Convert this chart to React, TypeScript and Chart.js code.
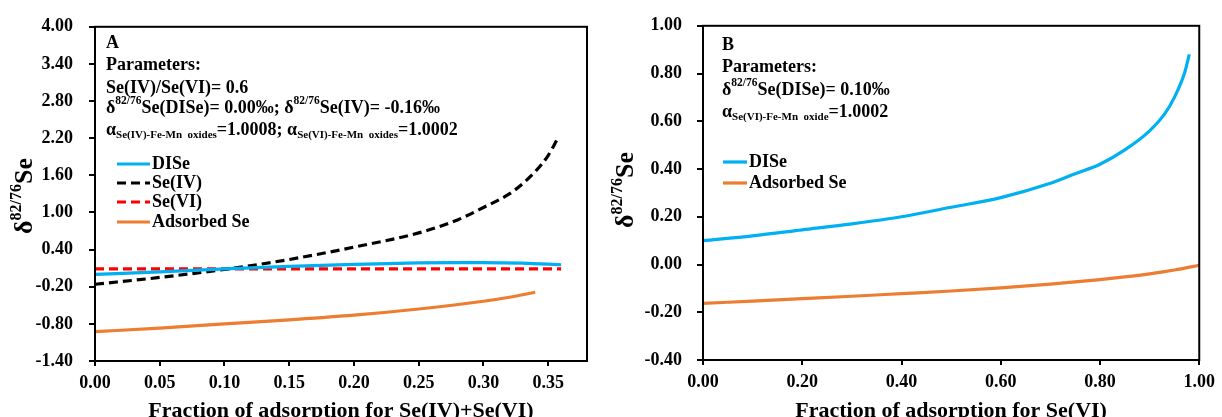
import React, { useEffect, useRef } from "react";
import { Chart, registerables } from "chart.js";

Chart.register(...registerables);

// ---------- Panel A data ----------
const xA_DISe = [0, 0.05, 0.1, 0.15, 0.2, 0.25, 0.28, 0.3, 0.33, 0.36];
const yA_DISe = [0.0, 0.04, 0.09, 0.13, 0.16, 0.185, 0.19, 0.19, 0.18, 0.155];
const xA_SeIV = [0, 0.05, 0.1, 0.15, 0.2, 0.25, 0.28, 0.3, 0.32, 0.33, 0.34, 0.35, 0.357];
const yA_SeIV = [-0.16, -0.05, 0.08, 0.24, 0.44, 0.67, 0.88, 1.08, 1.3, 1.46, 1.66, 1.92, 2.18];
const xA_SeVI = [0, 0.36];
const yA_SeVI = [0.09, 0.09];
const xA_Ads = [0, 0.05, 0.1, 0.15, 0.2, 0.25, 0.3, 0.32, 0.34];
const yA_Ads = [-0.925, -0.87, -0.8, -0.735, -0.66, -0.56, -0.435, -0.37, -0.29];

// ---------- Panel B data ----------
const xB_DISe = [0, 0.1, 0.2, 0.3, 0.4, 0.5, 0.6, 0.7, 0.75, 0.8, 0.85, 0.9, 0.93, 0.95, 0.97, 0.98];
const yB_DISe = [0.1, 0.12, 0.145, 0.17, 0.2, 0.24, 0.28, 0.34, 0.38, 0.42, 0.48, 0.56, 0.63, 0.7, 0.8, 0.88];
const xB_Ads = [0, 0.1, 0.2, 0.3, 0.4, 0.5, 0.6, 0.7, 0.8, 0.85, 0.9, 0.95, 1.0];
const yB_Ads = [-0.163, -0.153, -0.143, -0.133, -0.122, -0.111, -0.098, -0.082, -0.063, -0.052, -0.039, -0.023, -0.003];

// ---------- Axis ticks ----------
const xTicksA = [0, 0.05, 0.1, 0.15, 0.2, 0.25, 0.3, 0.35];
const yTicksA = [-1.4, -0.8, -0.2, 0.4, 1.0, 1.6, 2.2, 2.8, 3.4, 4.0];
const xTicksB = [0, 0.2, 0.4, 0.6, 0.8, 1.0];
const yTicksB = [-0.4, -0.2, 0, 0.2, 0.4, 0.6, 0.8, 1.0];

// ---------- Text ----------
const xTitleA = "Fraction of adsorption for Se(IV)+Se(VI)";
const xTitleB = "Fraction of adsorption for Se(VI)";
const labelsA = ["DISe", "Se(IV)", "Se(VI)", "Adsorbed Se"];
const labelsB = ["DISe", "Adsorbed Se"];

const FAMILY = '"Liberation Serif", "Times New Roman", serif';
const BLUE = "#00B0F0";
const ORANGE = "#ED7D31";
const RED = "#FF0000";
const BLACK = "#000000";
const BASE = 18;

type Seg = { t: string; size?: number; dy?: number };

function drawRich(ctx: CanvasRenderingContext2D, x: number, y: number, segs: Seg[], base = BASE) {
  let cx = x;
  for (const s of segs) {
    const size = s.size ?? base;
    ctx.font = `bold ${size}px ${FAMILY}`;
    ctx.fillText(s.t, cx, y + (s.dy ?? 0));
    cx += ctx.measureText(s.t).width;
  }
}

function richWidth(ctx: CanvasRenderingContext2D, segs: Seg[], base: number) {
  let w = 0;
  for (const s of segs) {
    ctx.font = `bold ${s.size ?? base}px ${FAMILY}`;
    w += ctx.measureText(s.t).width;
  }
  return w;
}

const SUP = -7;
const SUB = 5;
const SMALL = 11.5;
const SUBSZ = 11;

function makePlugin(opts: {
  textX: number;
  lines: { y: number; segs: Seg[] }[];
  legend: { x1: number; x2: number; tx: number; ys: number[] };
  titleX: number;
  titleY: number;
}) {
  return {
    id: "customText",
    afterDraw(chart: any) {
      const ctx: CanvasRenderingContext2D = chart.ctx;
      const ca = chart.chartArea;
      ctx.save();
      ctx.strokeStyle = BLACK;
      ctx.lineWidth = 2;
      ctx.strokeRect(ca.left, ca.top, ca.right - ca.left, ca.bottom - ca.top);
      ctx.fillStyle = BLACK;
      ctx.textBaseline = "middle";
      ctx.textAlign = "left";
      for (const l of opts.lines) drawRich(ctx, opts.textX, l.y, l.segs);
      chart.data.datasets.forEach((ds: any, i: number) => {
        const y = opts.legend.ys[i];
        ctx.save();
        ctx.strokeStyle = ds.borderColor;
        ctx.lineWidth = ds.borderWidth;
        ctx.setLineDash(ds.borderDash || []);
        ctx.beginPath();
        ctx.moveTo(opts.legend.x1, y);
        ctx.lineTo(opts.legend.x2, y);
        ctx.stroke();
        ctx.restore();
        ctx.fillStyle = BLACK;
        ctx.font = `bold ${BASE}px ${FAMILY}`;
        ctx.fillText(ds.label, opts.legend.tx, y);
      });
      const segs: Seg[] = [
        { t: "δ", size: 26 },
        { t: "82/76", size: 16, dy: -11 },
        { t: "Se", size: 26 },
      ];
      ctx.translate(opts.titleX, opts.titleY);
      ctx.rotate(-Math.PI / 2);
      ctx.textBaseline = "alphabetic";
      const w = richWidth(ctx, segs, 26);
      drawRich(ctx, -w / 2, 0, segs, 26);
      ctx.restore();
    },
  };
}

function lineDs(label: string, xs: number[], ys: number[], color: string, dash?: number[]) {
  return {
    label,
    data: xs.map((x, i) => ({ x, y: ys[i] })),
    borderColor: color,
    backgroundColor: color,
    borderWidth: 3.2,
    borderDash: dash,
    pointRadius: 0,
    fill: false,
    tension: 0.4,
    cubicInterpolationMode: "monotone",
  };
}

const tickFont = { family: FAMILY, size: 18, weight: "bold" as const };
const fmt = (v: any) => {
  const n = Number(v);
  return (Math.abs(n) < 1e-9 ? 0 : n).toFixed(2);
};

function axes(
  xr: [number, number],
  xTicks: number[],
  yr: [number, number],
  yTicks: number[],
  yWidth: number,
  xHeight: number,
  xTitle: string,
  yPad: number
) {
  return {
    x: {
      type: "linear",
      min: xr[0],
      max: xr[1],
      bounds: "data",
      afterBuildTicks: (s: any) => {
        s.ticks = xTicks.map((v) => ({ value: v }));
      },
      ticks: {
        autoSkip: false,
        maxRotation: 0,
        color: BLACK,
        font: tickFont,
        padding: 7,
        callback: fmt,
      },
      grid: { drawOnChartArea: false, drawTicks: true, tickLength: 5, color: BLACK, lineWidth: 2 },
      border: { display: true, color: BLACK, width: 2 },
      title: {
        display: true,
        text: xTitle,
        color: BLACK,
        font: { family: FAMILY, size: 22, weight: "bold", lineHeight: 1 },
        padding: { top: 0, bottom: -5 },
      },
      afterFit: (s: any) => {
        s.height = xHeight;
      },
    },
    y: {
      type: "linear",
      min: yr[0],
      max: yr[1],
      bounds: "data",
      afterBuildTicks: (s: any) => {
        s.ticks = yTicks.map((v) => ({ value: v }));
      },
      ticks: {
        autoSkip: false,
        color: BLACK,
        font: tickFont,
        padding: yPad,
        callback: fmt,
      },
      grid: { drawOnChartArea: false, drawTicks: true, tickLength: 6, color: BLACK, lineWidth: 2 },
      border: { display: true, color: BLACK, width: 2 },
      afterFit: (s: any) => {
        s.width = yWidth;
      },
    },
  };
}

export default function App() {
  const refA = useRef<HTMLCanvasElement>(null);
  const refB = useRef<HTMLCanvasElement>(null);

  useEffect(() => {
    const pluginA = makePlugin({
      textX: 106,
      lines: [
        { y: 43, segs: [{ t: "A" }] },
        { y: 65, segs: [{ t: "Parameters:" }] },
        { y: 88, segs: [{ t: "Se(IV)/Se(VI)= 0.6" }] },
        {
          y: 108,
          segs: [
            { t: "δ" },
            { t: "82/76", size: SMALL, dy: SUP },
            { t: "Se(DISe)= 0.00‰; " },
            { t: "δ" },
            { t: "82/76", size: SMALL, dy: SUP },
            { t: "Se(IV)= -0.16‰" },
          ],
        },
        {
          y: 130,
          segs: [
            { t: "α" },
            { t: "Se(IV)-Fe-Mn  oxides", size: SUBSZ, dy: SUB },
            { t: "=1.0008; " },
            { t: "α" },
            { t: "Se(VI)-Fe-Mn  oxides", size: SUBSZ, dy: SUB },
            { t: "=1.0002" },
          ],
        },
      ],
      legend: { x1: 117, x2: 150, tx: 152, ys: [164, 183, 202, 222] },
      titleX: 32,
      titleY: 196,
    });

    const pluginB = makePlugin({
      textX: 722 - 611,
      lines: [
        { y: 45, segs: [{ t: "B" }] },
        { y: 67, segs: [{ t: "Parameters:" }] },
        {
          y: 90,
          segs: [{ t: "δ" }, { t: "82/76", size: SMALL, dy: SUP }, { t: "Se(DISe)= 0.10‰" }],
        },
        {
          y: 112,
          segs: [{ t: "α" }, { t: "Se(VI)-Fe-Mn  oxide", size: SUBSZ, dy: SUB }, { t: "=1.0002" }],
        },
      ],
      legend: { x1: 723 - 611, x2: 747 - 611, tx: 749 - 611, ys: [162, 183] },
      titleX: 633 - 611,
      titleY: 190,
    });

    const chartA = new Chart(refA.current as HTMLCanvasElement, {
      type: "line",
      data: {
        datasets: [
          lineDs(labelsA[0], xA_DISe, yA_DISe, BLUE),
          lineDs(labelsA[1], xA_SeIV, yA_SeIV, BLACK, [9, 5]),
          lineDs(labelsA[2], xA_SeVI, yA_SeVI, RED, [9, 5]),
          lineDs(labelsA[3], xA_Ads, yA_Ads, ORANGE),
        ] as any,
      },
      options: {
        responsive: false,
        animation: false,
        devicePixelRatio: 1,
        layout: { padding: { left: 0, top: 21, right: 24, bottom: 0 } },
        plugins: { legend: { display: false }, tooltip: { enabled: false } },
        scales: axes([0, 0.38], xTicksA, [-1.4, 4.0], yTicksA, 95, 56, xTitleA, 16) as any,
      },
      plugins: [pluginA as any],
    });

    const chartB = new Chart(refB.current as HTMLCanvasElement, {
      type: "line",
      data: {
        datasets: [
          lineDs(labelsB[0], xB_DISe, yB_DISe, BLUE),
          lineDs(labelsB[1], xB_Ads, yB_Ads, ORANGE),
        ] as any,
      },
      options: {
        responsive: false,
        animation: false,
        devicePixelRatio: 1,
        layout: { padding: { left: 0, top: 20, right: 19, bottom: 0 } },
        plugins: { legend: { display: false }, tooltip: { enabled: false } },
        scales: axes([0, 1.0], xTicksB, [-0.4, 1.0], yTicksB, 92, 57, xTitleB, 15) as any,
      },
      plugins: [pluginB as any],
    });

    return () => {
      chartA.destroy();
      chartB.destroy();
    };
  }, []);

  return (
    <div style={{ position: "absolute", left: 0, top: 0, width: 1222, height: 417, background: "#fff", overflow: "hidden" }}>
      <canvas
        ref={refA}
        width={611}
        height={417}
        style={{ position: "absolute", left: 0, top: 0, width: 611, height: 417 }}
      />
      <canvas
        ref={refB}
        width={611}
        height={417}
        style={{ position: "absolute", left: 611, top: 0, width: 611, height: 417 }}
      />
    </div>
  );
}
